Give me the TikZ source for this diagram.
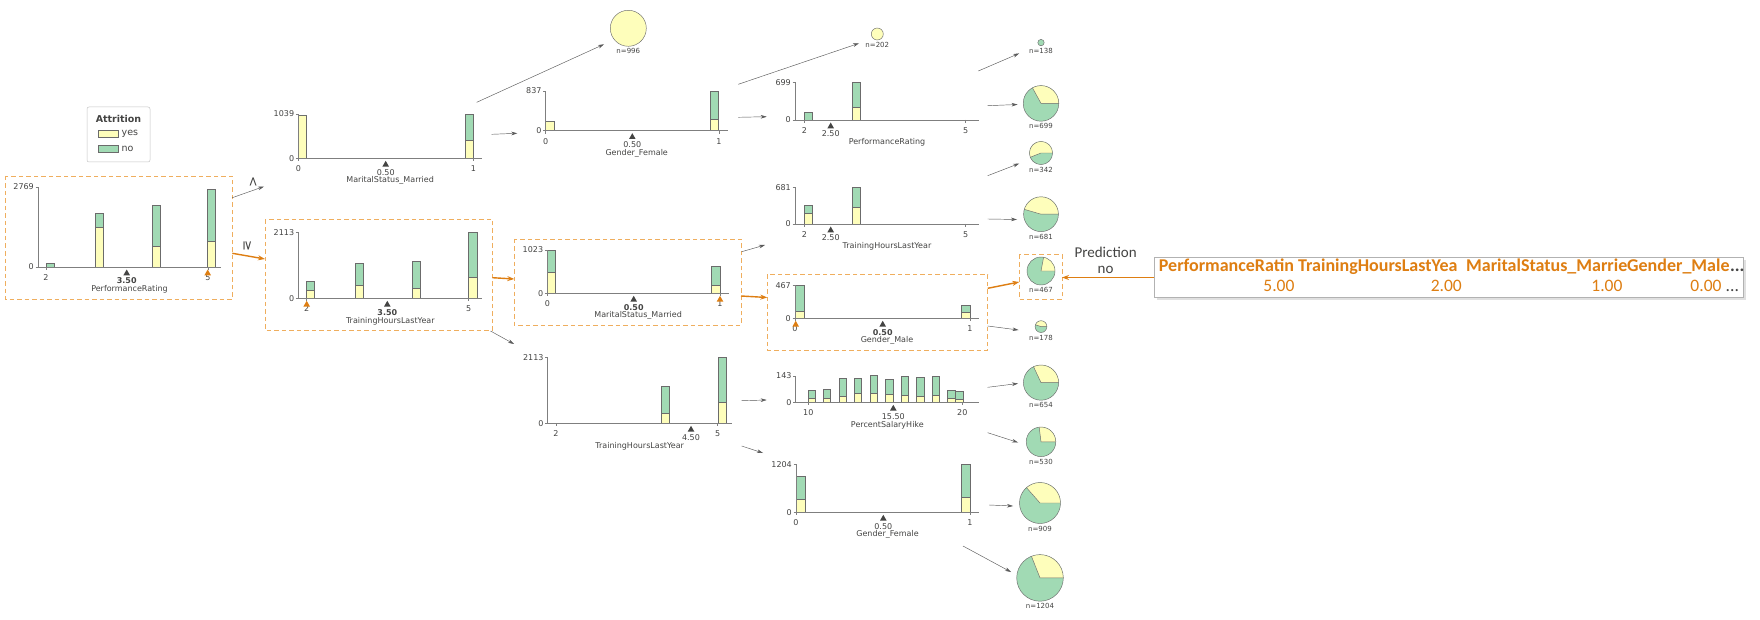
\documentclass[tikz,border=0pt]{standalone}
\usepackage{fontspec}
\setmainfont{DejaVu Sans}
\newfontfamily\tabfont{Carlito}
\usetikzlibrary{arrows.meta}

\definecolor{txt}{HTML}{444443}
\definecolor{yesc}{HTML}{FEFEBB}
\definecolor{noc}{HTML}{A1DAB4}
\definecolor{hl}{HTML}{DE7E12}
\definecolor{hlbox}{HTML}{EFAE5E}
\definecolor{axisc}{HTML}{7F7F7F}
\definecolor{bare}{HTML}{6B6B6B}
\definecolor{edgec}{HTML}{5A5A5A}

\tikzset{
  ticklbl/.style={font=\fontsize{8}{9}\selectfont, text=txt, inner sep=0pt},
  splitbold/.style={font=\fontsize{8}{9}\selectfont\bfseries},
  splitplain/.style={},
  leaflbl/.style={font=\fontsize{7}{8}\selectfont, text=txt, inner sep=0pt},
  legtxt/.style={font=\fontsize{9.5}{10}\selectfont, text=txt, inner sep=0pt},
  axisline/.style={draw=axisc, line width=0.5pt},
  barstyle/.style={draw=bare, line width=0.45pt},
  pathbox/.style={draw=hlbox, line width=0.9pt, dash pattern=on 4.5pt off 3pt},
  treeedge/.style={draw=edgec, line width=0.45pt, -{Stealth[length=6pt,width=3.6pt]}},
  pathedge/.style={draw=hl, line width=1.4pt, -{Stealth[length=7pt,width=5pt]}},
  cmplbl/.style={font=\fontsize{13}{13}\selectfont, text=txt, rotate=-90, inner sep=0pt},
  hdr/.style={font={\tabfont\fontsize{18}{19}\selectfont\bfseries}, text=hl, inner sep=0pt, anchor=base west},
  valtxt/.style={font={\tabfont\fontsize{17.5}{18}\selectfont}, text=hl, inner sep=0pt, anchor=base east},
  predlbl/.style={font={\tabfont\fontsize{15}{16}\selectfont}, text=txt, inner sep=0pt},
}

% axes of one histogram: id, x0, x1, ytop, ybase, max count, feature
\newcommand\chartframe[7]{%
  \draw[axisline] (#2-2.5,#4) -- (#2,#4) -- (#2,#5) -- (#3,#5);
  \draw[axisline] (#2-2.5,#5) -- (#2,#5);
  \node[ticklbl,anchor=east] (#1-ymax) at (#2-4,#4) {#6};
  \node[ticklbl,anchor=east] (#1-y0) at (#2-4,#5) {0};
  \node[ticklbl] (#1-feat) at ({(#2+#3)/2},#5+22.5) {#7};
}
% x tick: name, x, base, label
\newcommand\xtickmark[4]{%
  \draw[axisline] (#2,#3) -- (#2,#3+3);
  \node[ticklbl] (#1) at (#2,#3+10.5) {#4};
}
% split marker: name, x, base, value, style
\newcommand\splitmark[5]{%
  \fill[txt] (#2,#3+2.5) -- (#2+3.3,#3+8.3) -- (#2-3.3,#3+8.3) -- cycle;
  \node[ticklbl,#5] (#1) at (#2,#3+14) {#4};
}
% value of the explained instance
\newcommand\instmark[2]{%
  \fill[hl] (#1,#2+2.5) -- (#1+3.3,#2+8.3) -- (#1-3.3,#2+8.3) -- cycle;
}
% stacked bar: x, width, base, boundary, top
\newcommand\stackedbar[5]{%
  \filldraw[fill=yesc,barstyle] (#1,#3) rectangle (#1+#2,#4);
  \filldraw[fill=noc,barstyle] (#1,#4) rectangle (#1+#2,#5);
}
% pie leaf: name, x, y, radius, yes fraction, count
\newcommand\pieleaf[6]{%
  \coordinate (#1) at (#2,#3);
  \fill[noc] (#1) circle[radius=#4pt];
  \fill[yesc] (#1) -- ++(0:#4pt) arc[start angle=0,end angle={#5*360},radius=#4pt] -- cycle;
  \draw[bare,line width=0.45pt] (#1) circle[radius=#4pt];
  \draw[bare,line width=0.45pt] (#1) ++(0:#4pt) -- (#1) -- ++({#5*360}:#4pt);
  \node[leaflbl] (#1-n) at (#2,#3+#4+5) {n=#6};
}
% single-class leaf: name, x, y, radius, colour, count
\newcommand\solidleaf[6]{%
  \coordinate (#1) at (#2,#3);
  \filldraw[fill=#5,draw=bare,line width=0.45pt] (#1) circle[radius=#4pt];
  \node[leaflbl] (#1-n) at (#2,#3+#4+5) {n=#6};
}

\begin{document}
\begin{tikzpicture}[x=1pt,y=-1pt]
\useasboundingbox (0,0) rectangle (1760,620);
\fill[white] (0,0) rectangle (1760,620);

% decision path frames
\draw[pathbox] (5,176) rectangle (232.3,299);
\draw[pathbox] (265,219.3) rectangle (492.3,330);
\draw[pathbox] (514.3,239) rectangle (741,325);
\draw[pathbox] (767.3,274.3) rectangle (987.7,350);
\draw[pathbox] (1019.3,254.5) rectangle (1062,299);

% legend
\draw[gray!45, line width=0.5pt, rounded corners=2pt, fill=white] (87,107) rectangle (150,162);
\node[legtxt, font=\fontsize{9.5}{10}\selectfont\bfseries] (legtitle) at (118.5,119) {Attrition};
\filldraw[fill=yesc, barstyle] (98.3,130.7) rectangle (118.3,137.7);
\node[legtxt, anchor=west] (legyes) at (121.5,134.2) {yes};
\filldraw[fill=noc, barstyle] (98.3,145.3) rectangle (118.3,152.3);
\node[legtxt, anchor=west] (legno) at (121.5,148.8) {no};

% root: PerformanceRating
\stackedbar{46}{8.3}{267}{267}{263.7}
\stackedbar{95}{8.3}{267}{227}{213.7}
\stackedbar{152}{8.3}{267}{246.3}{205.3}
\stackedbar{207}{8.3}{267}{241.3}{189}
\chartframe{A}{38}{221}{187}{267}{2769}{PerformanceRating}
\xtickmark{A-t2}{46}{267}{2}
\xtickmark{A-t5}{208}{267}{5}
\splitmark{A-split}{126.7}{267}{3.50}{splitbold}
\instmark{207.7}{267}

% MaritalStatus_Married (upper)
\stackedbar{298.3}{8.4}{158.3}{115}{115}
\stackedbar{465}{8.4}{158.3}{140}{114}
\chartframe{B}{298.3}{482}{114}{158.3}{1039}{MaritalStatus\_Married}
\xtickmark{B-t0}{298.3}{158.3}{0}
\xtickmark{B-t1}{473.3}{158.3}{1}
\splitmark{B-split}{385.7}{158.3}{0.50}{splitplain}

% TrainingHoursLastYear (path)
\stackedbar{306.7}{8}{298.3}{290.3}{281}
\stackedbar{355.7}{8}{298.3}{285.7}{263.3}
\stackedbar{412.3}{8}{298.3}{288}{261.3}
\stackedbar{468.7}{8.3}{298.3}{277.3}{232.3}
\chartframe{C}{298.3}{482.3}{232.3}{298.3}{2113}{TrainingHoursLastYear}
\xtickmark{C-t2}{306.7}{298.3}{2}
\xtickmark{C-t5}{468.7}{298.3}{5}
\splitmark{C-split}{387.3}{298.3}{3.50}{splitbold}
\instmark{306.7}{298.3}

% Gender_Female (upper)
\stackedbar{545.7}{8.6}{130.7}{121}{121}
\stackedbar{710}{8.6}{130.7}{119.3}{91}
\chartframe{D}{545.7}{727.7}{91}{130.7}{837}{Gender\_Female}
\xtickmark{D-t0}{545.7}{130.7}{0}
\xtickmark{D-t1}{719}{130.7}{1}
\splitmark{D-split}{632.3}{130.7}{0.50}{splitplain}

% MaritalStatus_Married (path)
\stackedbar{547.3}{8}{293.3}{272.3}{250}
\stackedbar{711.7}{8.6}{293.3}{285.3}{266.3}
\chartframe{E}{547.3}{729}{250}{293.3}{1023}{MaritalStatus\_Married}
\xtickmark{E-t0}{547.3}{293.3}{0}
\xtickmark{E-t1}{720}{293.3}{1}
\splitmark{E-split}{633.7}{293.3}{0.50}{splitbold}
\instmark{720}{293.3}

% TrainingHoursLastYear (lower)
\stackedbar{661.3}{8.4}{423.3}{413.3}{386.7}
\stackedbar{718.3}{8.4}{423.3}{402.3}{357.3}
\chartframe{F}{547.7}{731.7}{357.3}{423.3}{2113}{TrainingHoursLastYear}
\xtickmark{F-t2}{556}{423.3}{2}
\xtickmark{F-t5}{717.7}{423.3}{5}
\splitmark{F-split}{691}{423.3}{4.50}{splitplain}

% PerformanceRating (second level)
\stackedbar{804.3}{8.4}{120}{120}{112.7}
\stackedbar{852.3}{8.4}{120}{107.7}{82.7}
\chartframe{G}{795}{979}{82.7}{120}{699}{PerformanceRating}
\xtickmark{G-t2}{804.3}{120}{2}
\xtickmark{G-t5}{965.7}{120}{5}
\splitmark{G-split}{830.7}{120}{2.50}{splitplain}

% TrainingHoursLastYear (second level)
\stackedbar{804.3}{8.4}{224}{213.3}{205}
\stackedbar{852.3}{8.4}{224}{207.3}{187.3}
\chartframe{H}{795}{979}{187.3}{224}{681}{TrainingHoursLastYear}
\xtickmark{H-t2}{804.3}{224}{2}
\xtickmark{H-t5}{965.7}{224}{5}
\splitmark{H-split}{830.7}{224}{2.50}{splitplain}

% Gender_Male (path)
\stackedbar{795}{9.3}{318.3}{311}{285.7}
\stackedbar{961.7}{9}{318.3}{312.3}{305}
\chartframe{I}{795}{979}{285.7}{318.3}{467}{Gender\_Male}
\xtickmark{I-t0}{795}{318.3}{0}
\xtickmark{I-t1}{970}{318.3}{1}
\splitmark{I-split}{882.7}{318.3}{0.50}{splitbold}
\instmark{795.7}{318.3}

% PercentSalaryHike
\stackedbar{808.3}{7.3}{402.3}{398.3}{390.7}
\stackedbar{823.3}{7.3}{402.3}{398.3}{389.3}
\stackedbar{839}{7.3}{402.3}{396.7}{378.3}
\stackedbar{854.3}{7.3}{402.3}{393.7}{378.3}
\stackedbar{870}{7.3}{402.3}{393.3}{375.3}
\stackedbar{885.7}{7.3}{402.3}{394.7}{379.3}
\stackedbar{901}{7.3}{402.3}{395.3}{376.7}
\stackedbar{916.7}{7.3}{402.3}{396.3}{377.7}
\stackedbar{932.3}{7.3}{402.3}{395.3}{376.3}
\stackedbar{947.7}{7.3}{402.3}{398.3}{390.3}
\stackedbar{955.7}{7.3}{402.3}{399.3}{391.7}
\chartframe{J}{795.7}{979}{376}{402.3}{143}{PercentSalaryHike}
\xtickmark{J-t10}{808.3}{402.3}{10}
\xtickmark{J-t20}{962.3}{402.3}{20}
\splitmark{J-split}{893.3}{402.3}{15.50}{splitplain}

% Gender_Female (lower)
\stackedbar{796}{9}{512.3}{499.3}{476.7}
\stackedbar{961.7}{8.5}{512.3}{497.3}{464.3}
\chartframe{K}{796}{979}{464.3}{512.3}{1204}{Gender\_Female}
\xtickmark{K-t0}{796}{512.3}{0}
\xtickmark{K-t1}{970}{512.3}{1}
\splitmark{K-split}{883.3}{512.3}{0.50}{splitplain}

% leaves
\solidleaf{L996}{628.3}{28.3}{18}{yesc}{996}
\solidleaf{L202}{877.3}{34}{6}{yesc}{202}
\solidleaf{L138}{1041}{42.6}{3.2}{noc}{138}
\pieleaf{L699}{1041}{103.4}{17.8}{0.33}{699}
\pieleaf{L342}{1041}{153}{11.6}{0.56}{342}
\pieleaf{L681}{1041}{214.2}{17.4}{0.455}{681}
\pieleaf{L467}{1041}{271}{14}{0.22}{467}
\pieleaf{L178}{1041}{326.6}{5.9}{0.45}{178}
\pieleaf{L654}{1041}{382.6}{17.6}{0.32}{654}
\pieleaf{L530}{1041}{441.8}{14.8}{0.27}{530}
\pieleaf{L909}{1040}{503}{20.5}{0.365}{909}
\pieleaf{L1204}{1040}{577.9}{23.3}{0.31}{1204}

% split direction labels
\node[cmplbl] (lt) at (253,182) {<};
\node[cmplbl] (ge) at (247.5,246) {≥};

% connector end points
\coordinate (A-o1) at (232.3,197.7);  \coordinate (B-i) at (264,186.5);
\coordinate (A-o2) at (232.3,253.3);  \coordinate (C-i) at (265,259);
\coordinate (B-o1) at (476.7,102.3);  \coordinate (L996-i) at (604,44.3);
\coordinate (B-o2) at (491.7,134.3);  \coordinate (D-i) at (517.3,133.3);
\coordinate (C-o1) at (492.3,277.7);  \coordinate (E-i) at (514.3,279);
\coordinate (C-o2) at (490.5,331);    \coordinate (F-i) at (514,344);
\coordinate (D-o1) at (738.3,84.3);   \coordinate (L202-i) at (859,43.3);
\coordinate (D-o2) at (738.3,117.3);  \coordinate (G-i) at (766.7,116.7);
\coordinate (E-o1) at (741.7,251.7);  \coordinate (H-i) at (765,245);
\coordinate (E-o2) at (741,296);      \coordinate (I-i) at (767.3,297.5);
\coordinate (F-o1) at (741.7,400.7);  \coordinate (J-i) at (766.7,400);
\coordinate (F-o2) at (741.7,446);    \coordinate (K-i) at (763,453);
\coordinate (G-o1) at (978.3,71);     \coordinate (L138-i) at (1019.2,53.4);
\coordinate (G-o2) at (987.7,105.7);  \coordinate (L699-i) at (1017.5,104.5);
\coordinate (H-o1) at (987.7,175.7);  \coordinate (L342-i) at (1019.2,163.5);
\coordinate (H-o2) at (987.7,219);    \coordinate (L681-i) at (1017,219.5);
\coordinate (I-o1) at (987.7,288.3);  \coordinate (L467-i) at (1019.3,282);
\coordinate (I-o2) at (987.7,326);    \coordinate (L178-i) at (1018.5,330);
\coordinate (J-o1) at (987.7,387.3);  \coordinate (L654-i) at (1018,383.5);
\coordinate (J-o2) at (987.7,432.7);  \coordinate (L530-i) at (1018,442.5);
\coordinate (K-o1) at (989,505);      \coordinate (L909-i) at (1013,506);
\coordinate (K-o2) at (963,546);      \coordinate (L1204-i) at (1011,572);
\coordinate (T-o) at (1154,277.5);    \coordinate (L467-o) at (1062,277.5);

% tree connectors
\draw[treeedge] (A-o1) -- (B-i);
\draw[pathedge] (A-o2) -- (C-i);
\draw[treeedge] (B-o1) -- (L996-i);
\draw[treeedge] (B-o2) -- (D-i);
\draw[pathedge] (C-o1) -- (E-i);
\draw[treeedge] (C-o2) -- (F-i);
\draw[treeedge] (D-o1) -- (L202-i);
\draw[treeedge] (D-o2) -- (G-i);
\draw[treeedge] (E-o1) -- (H-i);
\draw[pathedge] (E-o2) -- (I-i);
\draw[treeedge] (F-o1) -- (J-i);
\draw[treeedge] (F-o2) -- (K-i);
\draw[treeedge] (G-o1) -- (L138-i);
\draw[treeedge] (G-o2) -- (L699-i);
\draw[treeedge] (H-o1) -- (L342-i);
\draw[treeedge] (H-o2) -- (L681-i);
\draw[pathedge] (I-o1) -- (L467-i);
\draw[treeedge] (I-o2) -- (L178-i);
\draw[treeedge] (J-o1) -- (L654-i);
\draw[treeedge] (J-o2) -- (L530-i);
\draw[treeedge] (K-o1) -- (L909-i);
\draw[treeedge] (K-o2) -- (L1204-i);

% instance table (column names cut to the column width) and prediction
\fill[black!12] (1156.5,259.5) rectangle (1745.5,300);
\draw[draw=gray!60, fill=white, line width=0.6pt] (1154,257) rectangle (1743,297.5);
\node[hdr] (h1) at (1158.7,271.5) {PerformanceRatin};
\node[hdr] (h2) at (1298,271.5) {TrainingHoursLastYea};
\node[hdr] (h3) at (1466,271.5) {MaritalStatus\_Marrie};
\node[hdr] (h4) at (1627,271.5) {Gender\_Male};
\node[hdr, text=txt] (h4dots) at (h4.base east) {...};
\node[valtxt] (v1) at (1294.6,291.5) {5.00};
\node[valtxt] (v2) at (1462,291.5) {2.00};
\node[valtxt] (v3) at (1622.6,291.5) {1.00};
\node[valtxt] (v4) at (1721.7,291.5) {0.00};
\node[valtxt, text=txt, anchor=base west] (v4dots) at (1725.5,291.5) {...};

\node[predlbl] (pred) at (1105.6,252.5) {Prediction};
\node[predlbl] (predno) at (1105.6,270) {no};
\draw[pathedge] (T-o) -- (L467-o);
\end{tikzpicture}
\end{document}
